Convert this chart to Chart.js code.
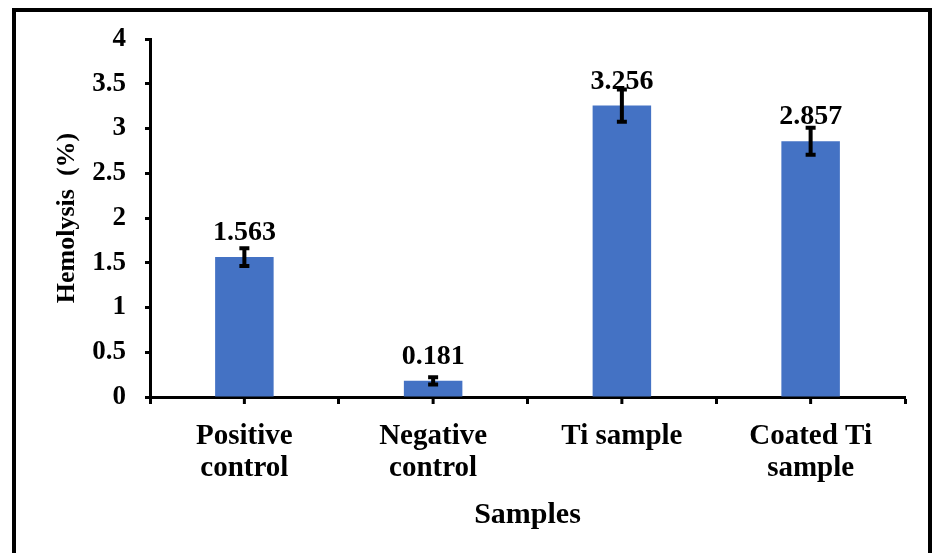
<!DOCTYPE html>
<html>
<head>
<meta charset="utf-8">
<script src="https://cdn.jsdelivr.net/npm/chart.js@4"></script>
<style>
  html, body { margin: 0; padding: 0; background: #fff; }
  #wrap { width: 932px; height: 553px; position: relative; }
</style>
</head>
<body>
<div id="wrap"><canvas id="c" width="932" height="553"></canvas></div>
<script>
const categories = [["Positive", "control"], ["Negative", "control"], ["Ti sample"], ["Coated Ti", "sample"]];
const hemolysis = [1.563, 0.181, 3.256, 2.857];
const errors = [0.10, 0.04, 0.18, 0.15];
const valueLabels = ["1.563", "0.181", "3.256", "2.857"];
const yTicks = [0, 0.5, 1, 1.5, 2, 2.5, 3, 3.5, 4];

const FONT = "'Liberation Serif', 'Times New Roman', serif";

const extras = {
  id: 'extras',
  afterDatasetsDraw(chart) {
    const ctx = chart.ctx;
    const meta = chart.getDatasetMeta(0);
    const y = chart.scales.y;
    ctx.save();
    // value labels
    ctx.fillStyle = '#000';
    ctx.font = 'bold 28px ' + FONT;
    ctx.textAlign = 'center';
    ctx.textBaseline = 'alphabetic';
    meta.data.forEach((bar, i) => {
      ctx.fillText(valueLabels[i], bar.x, bar.y - 17);
    });
    // error bars
    ctx.strokeStyle = '#000';
    ctx.lineWidth = 4;
    meta.data.forEach((bar, i) => {
      const top = y.getPixelForValue(hemolysis[i] + errors[i]);
      const bot = y.getPixelForValue(hemolysis[i] - errors[i]);
      ctx.beginPath();
      ctx.moveTo(bar.x, top); ctx.lineTo(bar.x, bot);
      ctx.moveTo(bar.x - 5, top); ctx.lineTo(bar.x + 5, top);
      ctx.moveTo(bar.x - 5, bot); ctx.lineTo(bar.x + 5, bot);
      ctx.stroke();
    });
    ctx.restore();
  },
  afterDraw(chart) {
    const ctx = chart.ctx;
    const x = chart.scales.x;
    const area = chart.chartArea;
    ctx.save();
    // mid-category tick marks
    ctx.strokeStyle = '#000';
    ctx.lineWidth = 3;
    categories.forEach((c, i) => {
      const px = x.getPixelForValue(i);
      ctx.beginPath();
      ctx.moveTo(px, area.bottom);
      ctx.lineTo(px, area.bottom + 7);
      ctx.stroke();
    });
    // outer frame
    ctx.lineWidth = 4;
    ctx.strokeRect(14, 10, 916, 600);
    ctx.restore();
  }
};

new Chart(document.getElementById('c'), {
  type: 'bar',
  data: {
    labels: categories,
    datasets: [{
      data: hemolysis,
      backgroundColor: '#4472C4',
      borderWidth: 0,
      categoryPercentage: 1,
      barPercentage: 0.31
    }]
  },
  options: {
    responsive: false,
    animation: false,
    events: [],
    layout: { padding: { left: 0, right: 27, top: 39, bottom: 0 } },
    plugins: { legend: { display: false }, tooltip: { enabled: false } },
    scales: {
      x: {
        offset: true,
        grid: { display: true, offset: true, drawOnChartArea: false, drawTicks: true, tickLength: 7, tickWidth: 3, tickColor: '#000' },
        border: { display: true, color: '#000', width: 3 },
        ticks: { color: '#000', font: { family: FONT, size: 29, weight: 'bold', lineHeight: 1.1 }, padding: 17, maxRotation: 0, autoSkip: false },
        title: { display: true, text: 'Samples', color: '#000', font: { family: FONT, size: 30, weight: 'bold', lineHeight: 1.2 }, padding: { top: 0, bottom: 20 } },
        afterFit(scale) { scale.height = 156; }
      },
      y: {
        min: 0, max: 4,
        afterBuildTicks(scale) { scale.ticks = yTicks.map(v => ({ value: v })); },
        grid: { display: true, drawOnChartArea: false, drawTicks: true, tickLength: 5, tickWidth: 3, tickColor: '#000' },
        border: { display: true, color: '#000', width: 3 },
        ticks: { color: '#000', font: { family: FONT, size: 27, weight: 'bold' }, padding: 19, callback: (v) => String(v) },
        title: { display: true, text: 'Hemolysis  (%)', color: '#000', font: { family: FONT, size: 26, weight: 'bold', lineHeight: 1.2 }, padding: { top: 52, bottom: 0 } },
        afterFit(scale) { scale.width = 150; }
      }
    }
  },
  plugins: [extras]
});
</script>
</body>
</html>
